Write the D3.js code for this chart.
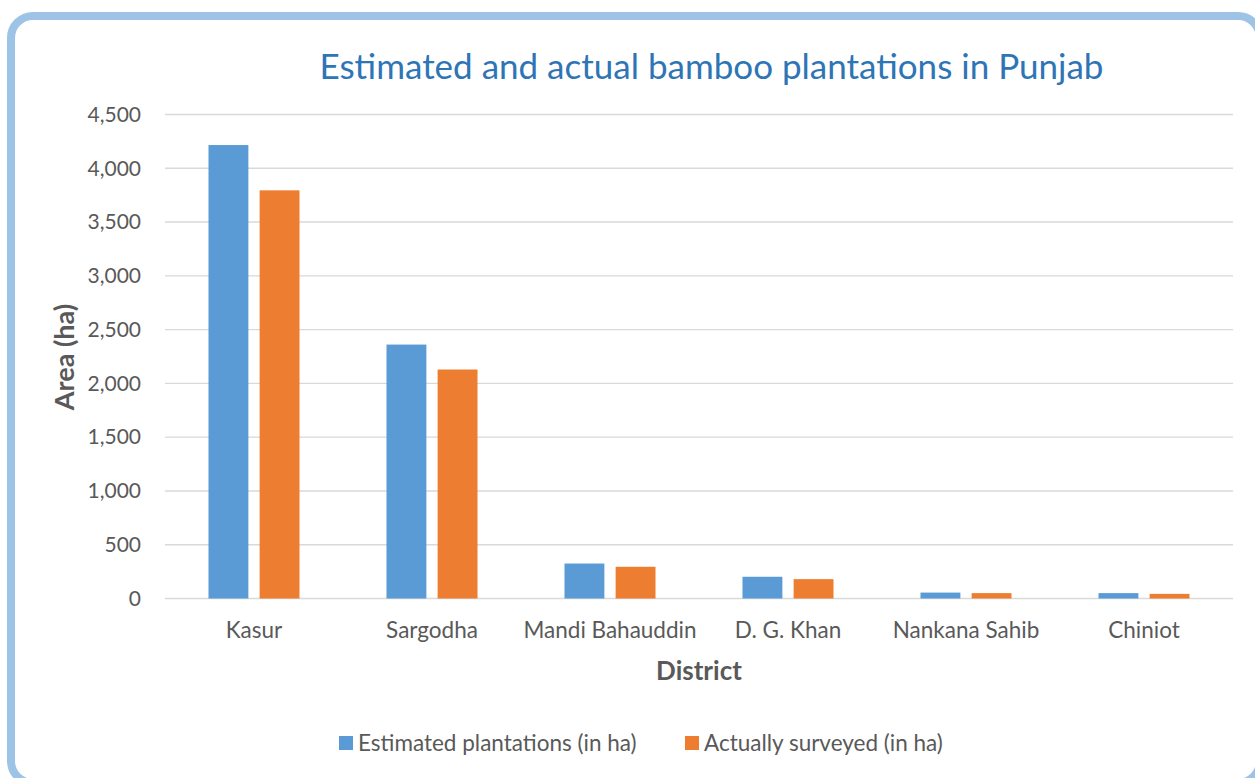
<!DOCTYPE html>
<html>
<head>
<meta charset="utf-8">
<script src="https://cdn.jsdelivr.net/npm/d3@7"></script>
<style>
  html, body { margin: 0; padding: 0; background: #fff; }
  svg { display: block; }
  text { font-family: Lato, "Open Sans", sans-serif; }
</style>
</head>
<body>
<svg id="chart" width="1255" height="778"></svg>
<script>
// Bamboo plantation areas by district (hectares)
const districts = ["Kasur", "Sargodha", "Mandi Bahauddin", "D. G. Khan", "Nankana Sahib", "Chiniot"];
const estimated = [4216, 2361, 325, 202, 55, 50];
const surveyed = [3795, 2129, 295, 180, 50, 43];
const seriesNames = ["Estimated plantations (in ha)", "Actually surveyed (in ha)"];
const yTicks = [0, 500, 1000, 1500, 2000, 2500, 3000, 3500, 4000, 4500];

const colors = ["#5b9bd5", "#ed7d31"];
const textColor = "#595959";

const svg = d3.select("#chart");

// rounded frame around the chart area
svg.append("rect")
  .attr("x", 11).attr("y", 16)
  .attr("width", 1249).attr("height", 767)
  .attr("rx", 22).attr("ry", 22)
  .attr("fill", "#fff")
  .attr("stroke", "#9dc3e6")
  .attr("stroke-width", 8);

const plot = { left: 165, right: 1233, top: 114.5, bottom: 598.5 };

const x0 = d3.scaleBand()
  .domain(districts)
  .range([plot.left, plot.right])
  .padding(0);

const x1 = d3.scaleBand()
  .domain([0, 1])
  .range([0, 91])
  .paddingInner(0.22);

const y = d3.scaleLinear()
  .domain([0, 4500])
  .range([plot.bottom, plot.top]);

// gridlines
svg.append("g")
  .selectAll("line")
  .data(yTicks)
  .join("line")
  .attr("x1", plot.left).attr("x2", plot.right)
  .attr("y1", d => y(d)).attr("y2", d => y(d))
  .attr("stroke", "#d9d9d9")
  .attr("stroke-width", 1.4);

// y axis labels
const yAxis = d3.axisLeft(y)
  .tickValues(yTicks)
  .tickFormat(d3.format(","))
  .tickSize(0)
  .tickPadding(0);

svg.append("g")
  .attr("transform", `translate(141,0)`)
  .call(yAxis)
  .call(g => g.select(".domain").remove())
  .selectAll("text")
  .attr("fill", textColor)
  .attr("font-size", 21)
  .attr("font-family", "Lato, sans-serif");

// bars
const groups = svg.append("g")
  .selectAll("g")
  .data(districts.map((d, i) => ({ name: d, values: [estimated[i], surveyed[i]] })))
  .join("g")
  .attr("transform", d => `translate(${x0(d.name) + x0.bandwidth() / 2 - 45.5},0)`);

groups.selectAll("rect")
  .data(d => d.values.map((v, k) => ({ k, v })))
  .join("rect")
  .attr("x", d => x1(d.k))
  .attr("width", x1.bandwidth())
  .attr("y", d => y(d.v))
  .attr("height", d => y(0) - y(d.v))
  .attr("fill", d => colors[d.k]);

// x axis category labels
const xAxis = d3.axisBottom(x0).tickSize(0).tickPadding(0);
svg.append("g")
  .attr("transform", `translate(0,${plot.bottom})`)
  .call(xAxis)
  .call(g => g.select(".domain").remove())
  .selectAll("text")
  .attr("dy", null)
  .attr("y", 39)
  .attr("fill", textColor)
  .attr("font-size", 22.5)
  .attr("font-family", "Lato, sans-serif");

// title
svg.append("text")
  .attr("x", 711.5).attr("y", 79)
  .attr("text-anchor", "middle")
  .attr("fill", "#2e75b6")
  .attr("font-size", 35)
  .text("Estimated and actual bamboo plantations in Punjab");

// axis titles
svg.append("text")
  .attr("x", 699).attr("y", 680)
  .attr("text-anchor", "middle")
  .attr("fill", textColor)
  .attr("font-size", 26)
  .attr("font-weight", "bold")
  .text("District");

svg.append("text")
  .attr("transform", "translate(74,357) rotate(-90)")
  .attr("text-anchor", "middle")
  .attr("fill", textColor)
  .attr("font-size", 27)
  .attr("font-weight", "bold")
  .text("Area (ha)");

// legend
const legendX = [339, 685];
const legend = svg.append("g")
  .selectAll("g")
  .data(seriesNames)
  .join("g")
  .attr("transform", (d, i) => `translate(${legendX[i]},736)`);

legend.append("rect")
  .attr("width", 14).attr("height", 14)
  .attr("fill", (d, i) => colors[i]);

legend.append("text")
  .attr("x", 19).attr("y", 14.5)
  .attr("fill", textColor)
  .attr("font-size", 22.5)
  .text(d => d);
</script>
</body>
</html>
